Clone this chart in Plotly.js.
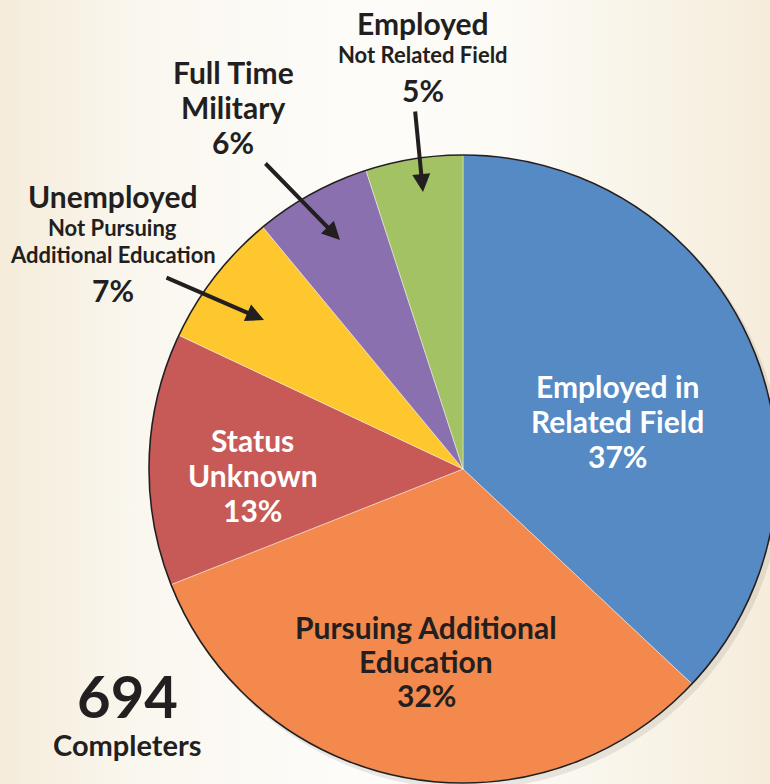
<!DOCTYPE html>
<html>
<head>
<meta charset="utf-8">
<script src="https://cdn.plot.ly/plotly-3.0.1.min.js"></script>
<style>
  html, body { margin:0; padding:0; overflow:hidden; width:770px; height:784px;
    background: linear-gradient(to right, #f5ecda 0%, #faf7ef 18%, #fdfcf9 45%, #fcfbf6 65%, #f8f2e5 88%, #f5ecdb 100%); }
  #chart { width:800px; height:800px; }
</style>
</head>
<body>
<div id="chart"></div>
<script>
// ---- data ----
const categories = ["Employed in Related Field", "Pursuing Additional Education", "Status Unknown",
                    "Unemployed Not Pursuing Additional Education", "Full Time Military", "Employed Not Related Field"];
const percents = [37, 32, 13, 7, 6, 5];
const colors = ["#558ac4", "#f3894c", "#c75a57", "#fec72e", "#8a70ae", "#a3c263"];
const totalCompleters = 694;
const totalLabel = "Completers";

// ---- layout helpers (pixel -> paper) ----
const W = 800, H = 800;
const px = x => x / W;
const py = y => 1 - y / H;
const cx = 463, cy = 469, r = 314;
const dom = { x: [px(cx - r), px(cx + r)], y: [py(cy + r), py(cy - r)] };

const font = "Lato, 'Open Sans', sans-serif";
const dark = "#231f20";
const BIG = 30, SMALL = 22;

const pie = {
  type: "pie",
  values: percents,
  labels: categories,
  marker: { colors: colors, line: { color: "rgba(255,255,255,0.55)", width: 0.8 } },
  sort: false, direction: "clockwise", rotation: 0,
  textinfo: "none", hoverinfo: "label+percent",
  domain: dom, showlegend: false
};
const outline = {
  type: "pie", values: [1], labels: ["outline"],
  marker: { colors: ["rgba(0,0,0,0)"], line: { color: dark, width: 1.6 } },
  textinfo: "none", hoverinfo: "skip", domain: dom, showlegend: false, sort: false
};

function ann(text, x, y, size, color) {
  return { text: text, x: px(x), y: py(y), xref: "paper", yref: "paper", showarrow: false,
           xanchor: "center", yanchor: "middle", align: "center",
           font: { family: font, size: size, color: color || dark, weight: 700 } };
}
// several lines, one annotation each, first line centre at y0, spaced by dy
function block(lines, x, y0, dy, size, color) {
  return lines.map((t, i) => ann(t, x, y0 + i * dy, size, color));
}
function arrow(tipX, tipY, tailX, tailY) {
  return { text: "", x: px(tipX), y: py(tipY), xref: "paper", yref: "paper",
           showarrow: true, ax: tailX - tipX, ay: tailY - tipY,
           arrowhead: 2, arrowsize: 0.9, arrowwidth: 4, arrowcolor: dark, standoff: 0, startstandoff: 0 };
}
const pct = i => percents[i] + "%";

const annotations = [].concat(
  block(["Employed in", "Related Field", pct(0)], 617, 386, 35, BIG, "#ffffff"),
  block(["Pursuing Additional", "Education", pct(1)], 426, 627, 34, BIG, dark),
  block(["Status", "Unknown", pct(2)], 253, 440, 35, BIG, "#ffffff"),
  [ann("Unemployed", 112, 196, BIG)],
  block(["Not Pursuing", "Additional Education"], 113, 228, 27, SMALL),
  [ann(pct(3), 113, 290, BIG)],
  block(["Full Time", "Military", pct(4)], 233, 72, 35, BIG),
  [ann("Employed", 423, 23, BIG)],
  [ann("Not Related Field", 423, 54, SMALL)],
  [ann(pct(5), 423, 90, BIG)],
  [ann(String(totalCompleters), 127, 695, 58)],
  [ann(totalLabel, 127, 744, 29)],
  [arrow(423, 192, 415, 110),
   arrow(340, 240, 264, 162),
   arrow(264, 320, 165, 277)]
);

Plotly.newPlot("chart", [pie, outline], {
  width: W, height: H,
  margin: { l: 0, r: 0, t: 0, b: 0 },
  paper_bgcolor: "rgba(0,0,0,0)", plot_bgcolor: "rgba(0,0,0,0)",
  showlegend: false,
  shapes: [{ type: "circle", xref: "paper", yref: "paper", layer: "below",
             x0: px(cx - r + 3), x1: px(cx + r + 5), y0: py(cy + r + 6), y1: py(cy - r + 3),
             fillcolor: "rgba(60,50,40,0.10)", line: { width: 0 } }],
  annotations: annotations
}, { displayModeBar: false, staticPlot: true });
</script>
</body>
</html>
